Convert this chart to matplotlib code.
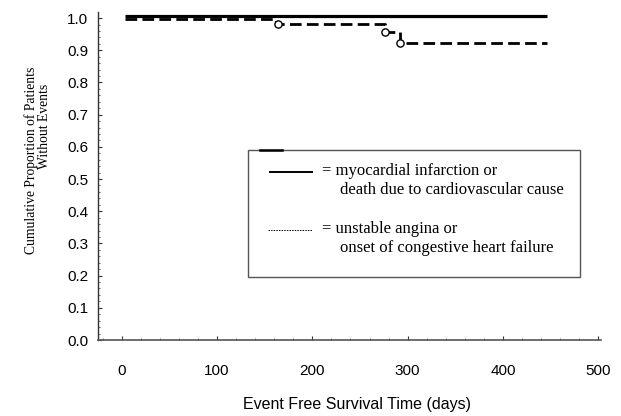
import matplotlib
matplotlib.use("Agg")
import matplotlib.pyplot as plt
from matplotlib.lines import Line2D
from matplotlib.patches import Rectangle
import numpy as np

# Data
mi_time = [3, 446]
mi_surv = [1.007, 1.007]

ua_time = [3, 162, 276, 292, 446]
ua_surv = [0.998, 0.981, 0.957, 0.923, 0.923]

ua_event_time = [164, 276, 292]
ua_event_surv = [0.981, 0.957, 0.923]

x_ticks = [0, 100, 200, 300, 400, 500]
y_ticks = [0.0, 0.1, 0.2, 0.3, 0.4, 0.5, 0.6, 0.7, 0.8, 0.9, 1.0]

legend_line1 = ["= myocardial infarction or", "death due to cardiovascular cause"]
legend_line2 = ["= unstable angina or", "onset of congestive heart failure"]

W, H = 621, 416
fig = plt.figure(figsize=(W / 100, H / 100), dpi=100)
ax = fig.add_axes([98 / W, 1 - 340 / H, (601 - 98) / W, (340 - 12) / H])

ax.step(mi_time, mi_surv, where="post", color="black", lw=2.3, solid_capstyle="butt")
ax.step(ua_time, ua_surv, where="post", color="black", lw=2.0,
        linestyle=(0, (4.2, 1.9)), dash_capstyle="butt")
ax.plot(ua_event_time, ua_event_surv, linestyle="none", marker="o", ms=5.2,
        mfc="white", mec="black", mew=1.0)

ax.set_xlim(-25, 503)
ax.set_ylim(0, 1.019)
ax.set_xticks(x_ticks)
ax.set_yticks(y_ticks)
ax.set_yticklabels([f"{v:.1f}" for v in y_ticks])
ax.set_xticks(np.arange(-20, 501, 20), minor=True)
ax.set_yticks(np.arange(0, 1.01, 0.02), minor=True)

for s in ["top", "right"]:
    ax.spines[s].set_visible(False)
ax.spines["left"].set_color("#333333")
ax.spines["bottom"].set_color("#555555")
ax.spines["left"].set_linewidth(1.0)
ax.spines["bottom"].set_linewidth(1.2)

ax.tick_params(axis="both", which="major", direction="in", length=3, width=0.8,
               labelsize=11, colors="#333333", labelcolor="black")
ax.tick_params(axis="both", which="minor", direction="in", length=1.5, width=0.6,
               colors="#555555")
ax.tick_params(axis="x", which="major", pad=17.5)
ax.tick_params(axis="y", which="major", pad=7)
for lbl in ax.get_xticklabels() + ax.get_yticklabels():
    lbl.set_fontfamily("Liberation Sans")

fig.text(357 / W, 1 - 404 / H, "Event Free Survival Time (days)",
         fontfamily="Liberation Sans", fontsize=11.5, ha="center", va="center")
fig.text(31 / W, 1 - 160 / H, "Cumulative Proportion of Patients",
         fontfamily="Liberation Serif", fontsize=9.8, ha="center", va="center",
         rotation=90)
fig.text(45 / W, 1 - 126 / H, "Without Events",
         fontfamily="Liberation Serif", fontsize=9.8, ha="center", va="center",
         rotation=90)


def fx(px):
    return px / W


def fy(py):
    return 1 - py / H


box = Rectangle((fx(248), fy(277)), fx(580) - fx(248), fy(150) - fy(277),
                transform=fig.transFigure, fill=False, edgecolor="#555555", lw=1.0)
fig.add_artist(box)
fig.add_artist(Line2D([fx(260), fx(282)], [fy(150), fy(150)],
                      transform=fig.transFigure, color="black", lw=1.8))
fig.add_artist(Line2D([fx(270), fx(312)], [fy(172), fy(172)],
                      transform=fig.transFigure, color="black", lw=1.4))
fig.add_artist(Line2D([fx(268), fx(312)], [fy(230), fy(230)],
                      transform=fig.transFigure, color="black", lw=0.7,
                      linestyle=(0, (1.5, 1.2))))

tkw = dict(fontfamily="Liberation Serif", fontsize=12, va="center", ha="left")
fig.text(fx(322), fy(171), legend_line1[0], **tkw)
fig.text(fx(340), fy(190), legend_line1[1], **tkw)
fig.text(fx(322), fy(229), legend_line2[0], **tkw)
fig.text(fx(340), fy(248), legend_line2[1], **tkw)

fig.savefig("out.png", dpi=100)
